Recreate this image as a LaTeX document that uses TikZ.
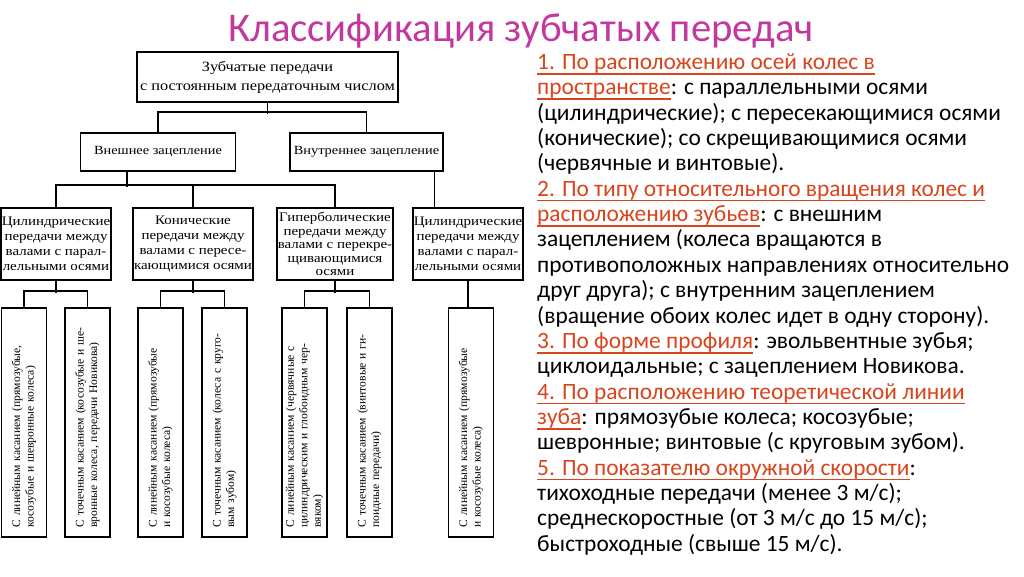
\documentclass[tikz,border=0pt]{standalone}
\usepackage{fontspec}
\setmainfont{Carlito}
\newfontfamily\schemefont[FakeStretch=1.15]{Liberation Serif}
\newfontfamily\leaffont{Liberation Serif}
\usepackage{xcolor}
\definecolor{titlepink}{HTML}{C2389E}
\definecolor{headred}{HTML}{D9441C}
\usetikzlibrary{positioning}
\tikzset{
  box/.style={draw, line width=1.7pt, inner sep=1pt, align=center,
    font=\schemefont\fontsize{13}{15}\selectfont},
  midbox/.style={box, minimum height=72pt},
  vbox/.style={box, rotate=90, minimum width=229pt, minimum height=45pt,
    text width=210pt, align=left, font=\leaffont\fontsize{11.6}{13.5}\selectfont},
  link/.style={line width=1.7pt}
}
\newcommand{\hd}[1]{{\color{headred}\setbox0\hbox{#1}%
  \rlap{\vrule width\wd0 height -0.15em depth 0.22em}\box0}}

\begin{document}
\begin{tikzpicture}[x=1pt,y=-1pt]
  \useasboundingbox (0,0) rectangle (1024,576);

  % title
  \node[font=\fontsize{40.7}{48}\selectfont, text=titlepink] (title) at (521,31)
    {Классификация зубчатых передач};

  % scheme boxes
  \node[box, minimum width=261pt, minimum height=50pt,
    font=\schemefont\fontsize{14.2}{19}\selectfont] (top) at (267.5,77)
    {Зубчатые передачи\\с постоянным передаточным числом};
  \node[box, minimum width=155pt, minimum height=38pt,
    font=\schemefont\fontsize{12.5}{15}\selectfont] (ext) at (158,152) {Внешнее зацепление};
  \node[box, minimum width=153pt, minimum height=38pt,
    font=\schemefont\fontsize{12.5}{15}\selectfont] (int) at (366.5,152) {Внутреннее зацепление};

  \node[midbox, minimum width=108pt] (cyl1) at (56,244)
    {Цилиндрические\\передачи между\\валами с парал-\\лельными осями};
  \node[midbox, minimum width=112pt] (kon) at (193,244)
    {Конические\\передачи между\\валами с пересе-\\кающимися осями};
  \node[midbox, minimum width=108pt, font=\schemefont\fontsize{13}{13.5}\selectfont] (hyp) at (335,244)
    {Гиперболические\\передачи между\\валами с перекре-\\щивающимися\\осями};
  \node[midbox, minimum width=104pt] (cyl2) at (468,244)
    {Цилиндрические\\передачи между\\валами с парал-\\лельными осями};

  \node[vbox] (b1) at (24,422.5) {С линейным касанием (прямозубые,\\косозубые и шевронные колеса)};
  \node[vbox] (b2) at (87.5,422.5) {С точечным касанием (косозубые и ше-\\вронные колеса, передачи Новикова)};
  \node[vbox] (b3) at (160.5,422.5) {С линейным касанием (прямозубые\\и косозубые колеса)};
  \node[vbox] (b4) at (224.5,422.5) {С точечным касанием (колеса с круго-\\вым зубом)};
  \node[vbox] (b5) at (304.5,422.5) {С линейным касанием (червячные с\\цилиндрическим и глобоидным чер-\\вяком)};
  \node[vbox] (b6) at (369.5,422.5) {С точечным касанием (винтовые и ги-\\поидные передачи)};
  \node[vbox] (b7) at (471,422.5) {С линейным касанием (прямозубые\\и косозубые колеса)};

  % connectors
  \draw[link] (top.south) -- ++(0,11);
  \draw[link] (ext.north) -- ++(0,-20) -| (int.north);
  \draw[link] ([xshift=-31pt]ext.south) -- ++(0,15);
  \draw[link] (cyl1.north) -- ++(0,-22) -| (hyp.north);
  \draw[link] (kon.north) -- ++(0,-22);
  \draw[link] ([xshift=68pt]int.south) -- ([xshift=68pt]int.south |- cyl2.north);
  \foreach \m/\l/\r in {cyl1/b1/b2, kon/b3/b4, hyp/b5/b6} {
    \draw[link] (\m.south) -- ++(0,12);
    \draw[link] (\l.east) -- ++(0,-16) -| (\r.east);
  }
  \draw[link] (cyl2.south) -- (cyl2.south |- b7.east);

  % classification notes
  \node[anchor=north west, inner sep=0pt, align=left,
    font=\fontsize{23.4}{25.35}\selectfont] (notes) at (537,53.5) {%
    \hd{1. По расположению осей колес в}\\
    \hd{пространстве}: с параллельными осями\\
    (цилиндрические); с пересекающимися осями\\
    (конические); со скрещивающимися осями\\
    (червячные и винтовые).\\
    \hd{2. По типу относительного вращения колес и}\\
    \hd{расположению зубьев}: с внешним\\
    зацеплением (колеса вращаются в\\
    противоположных направлениях относительно\\
    друг друга); с внутренним зацеплением\\
    (вращение обоих колес идет в одну сторону).\\
    \hd{3. По форме профиля}: эвольвентные зубья;\\
    циклоидальные; с зацеплением Новикова.\\
    \hd{4. По расположению теоретической линии}\\
    \hd{зуба}: прямозубые колеса; косозубые;\\
    шевронные; винтовые (с круговым зубом).\\
    \hd{5. По показателю окружной скорости}:\\
    тихоходные передачи (менее 3 м/с);\\
    среднескоростные (от 3 м/с до 15 м/с);\\
    быстроходные (свыше 15 м/с).};
\end{tikzpicture}
\end{document}
